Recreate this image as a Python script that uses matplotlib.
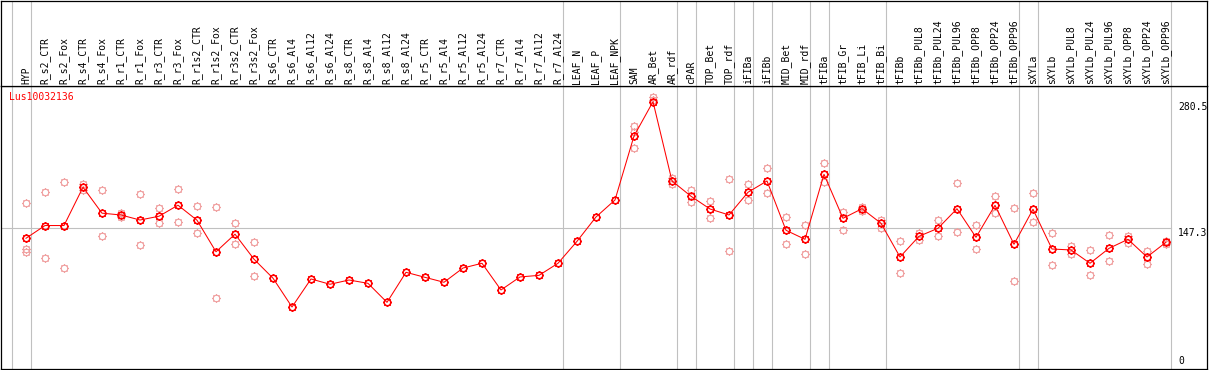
import numpy as np
import matplotlib
matplotlib.use("Agg")
import matplotlib.pyplot as plt
from matplotlib.path import Path

categories = ["HYP", "R_s2_CTR", "R_s2_Fox", "R_s4_CTR", "R_s4_Fox", "R_r1_CTR", "R_r1_Fox",
              "R_r3_CTR", "R_r3_Fox", "R_r1s2_CTR", "R_r1s2_Fox", "R_r3s2_CTR", "R_r3s2_Fox",
              "R_s6_CTR", "R_s6_Al4", "R_s6_Al12", "R_s6_Al24", "R_s8_CTR", "R_s8_Al4",
              "R_s8_Al12", "R_s8_Al24", "R_r5_CTR", "R_r5_Al4", "R_r5_Al12", "R_r5_Al24",
              "R_r7_CTR", "R_r7_Al4", "R_r7_Al12", "R_r7_Al24", "LEAF_N", "LEAF_P", "LEAF_NPK",
              "SAM", "AR_Bet", "AR_rdf", "cPAR", "TOP_Bet", "TOP_rdf", "iFIBa", "iFIBb",
              "MID_Bet", "MID_rdf", "tFIBa", "tFIB_Gr", "tFIB_Li", "tFIB_Bi", "tFIBb",
              "tFIBb_PUL8", "tFIBb_PUL24", "tFIBb_PUL96", "tFIBb_OPP8", "tFIBb_OPP24",
              "tFIBb_OPP96", "sXYLa", "sXYLb", "sXYLb_PUL8", "sXYLb_PUL24", "sXYLb_PUL96",
              "sXYLb_OPP8", "sXYLb_OPP24", "sXYLb_OPP96"]

mean_values = [136.8, 150.2, 150.2, 190.5, 163.2, 161.3, 156.0, 160.0, 171.6, 155.8, 122.6,
               141.1, 114.8, 94.8, 64.5, 94.0, 88.4, 92.9, 89.4, 69.4, 101.0, 95.7, 90.5,
               105.5, 110.5, 82.4, 96.1, 97.8, 110.5, 133.6, 159.2, 177.1, 244.4, 280.5,
               197.1, 181.0, 167.6, 161.3, 185.2, 197.1, 145.2, 135.7, 204.1, 157.8, 167.9,
               152.6, 117.1, 138.9, 147.3, 167.9, 137.8, 171.5, 130.5, 167.3, 125.5, 124.5,
               110.5, 126.2, 135.7, 117.1, 132.6]

nan = np.nan
rep1 = [173.6, 185.2, 196.3, 193.6, 187.6, 162.9, 183.1, 168.3, 188.6, 170.8, 169.4,
        153.2, 132.9, nan, nan, nan, nan, nan, nan, nan, nan, nan, nan, nan, nan, nan, nan,
        nan, nan, nan, nan, nan, 254.9, 285.1, 200.5, 187.6, 175.7, 198.8, 193.6, 210.4,
        158.9, 150.4, 215.7, 164.1, 170.0, 156.0, 133.9, 142.7, 156.0, 194.6, 150.4, 181.0,
        168.3, 184.1, 142.0, 129.0, 124.1, 139.9, 139.5, 123.4, 134.2]
rep2 = [125.5, 115.7, 105.2, 187.6, 139.2, 159.7, 129.7, 152.6, 153.6, 142.0, 73.6,
        130.5, 96.8, nan, nan, nan, nan, nan, nan, nan, nan, nan, nan, nan, nan, nan, nan,
        nan, nan, nan, nan, nan, 231.5, 282.3, 193.6, 174.6, 158.1, 123.1, 176.7, 184.1,
        130.5, 120.3, 195.7, 145.2, 165.5, 147.3, 100.3, 135.0, 139.5, 143.1, 125.2, 163.1,
        91.5, 153.6, 109.0, 119.9, 97.8, 112.6, 131.8, 110.0, 130.8]
rep3 = [122.0, nan, nan, nan, nan, nan, nan, nan, nan, nan, nan, nan, nan, nan, nan, nan,
        nan, nan, nan, nan, nan, nan, nan, nan, nan, nan, nan, nan, nan, nan, nan, nan,
        248.6, nan, nan, nan, nan, nan, nan, nan, nan, nan, nan, nan, nan, nan, nan, nan,
        nan, nan, nan, nan, nan, nan, nan, nan, nan, nan, nan, nan, nan]

group_starts = [0, 1, 29, 32, 35, 36, 38, 39, 40, 42, 43, 46, 53, 54, 61]
gene_name = "Lus10032136"
right_labels = ["280.5", "147.3", "0"]
right_label_values = [280.5, 147.3, 0]

# ---------------- layout -----------------
W, H = 1209, 370
fig = plt.figure(figsize=(W / 100, H / 100), dpi=100)
mono = "DejaVu Sans Mono"
fs = 7.0

px0 = 26.0      # pixel x of first category
pstep = 19.0    # pixel step between categories
left_px, right_px = 1.0, 1207.0
xlim = ((left_px - px0) / pstep, (right_px - px0) / pstep)

top_px, sep_px, bot_px = 0.5, 86.0, 369.0
y0_px, scale = 368.3, 0.9505   # pixel of value 0, pixels per unit
ylim = ((y0_px - bot_px) / scale, (y0_px - sep_px) / scale)

ax = fig.add_axes([left_px / W, (H - bot_px) / H, (right_px - left_px) / W, (bot_px - sep_px) / H])
hx = fig.add_axes([left_px / W, (H - sep_px) / H, (right_px - left_px) / W, (sep_px - top_px) / H])

for a in (ax, hx):
    a.set_xlim(*xlim)
    a.set_xticks([])
    a.set_yticks([])
    for s in a.spines.values():
        s.set_linewidth(0.9)
        s.set_color("black")
ax.set_ylim(*ylim)
hx.set_ylim(0, 1)

grey = "#c0c0c0"
off = 14.3 / pstep
for g in group_starts:
    for a in (ax, hx):
        a.axvline(g - off, color=grey, lw=0.8, zorder=1)
ax.plot([xlim[0], len(categories) - off], [147.3, 147.3], color=grey, lw=0.8, zorder=1)

# marker: circle with small ticks
theta = np.linspace(0, 2 * np.pi, 33)
verts = [(np.cos(t), np.sin(t)) for t in theta[:-1]] + [(1, 0)]
codes = [Path.MOVETO] + [Path.LINETO] * 31 + [Path.CLOSEPOLY]
for ang in np.arange(8) * np.pi / 4:
    verts += [(1.05 * np.cos(ang), 1.05 * np.sin(ang)), (1.35 * np.cos(ang), 1.35 * np.sin(ang))]
    codes += [Path.MOVETO, Path.LINETO]
mk = Path(verts, codes)

x = np.arange(len(categories))
light = "#f0a0a0"
for rep in (rep1, rep2, rep3):
    ax.plot(x, rep, ls="none", marker=mk, ms=6.3, mfc="none", mec=light, mew=0.8, zorder=2)
ax.plot(x, mean_values, color="red", lw=0.75, zorder=3)
ax.plot(x, mean_values, ls="none", marker=mk, ms=6.3, mfc="none", mec="red", mew=1.1, zorder=4)

# header labels
for i, c in enumerate(categories):
    hx.text(i, 2.5 / (sep_px - top_px), c, rotation=90, ha="center", va="bottom",
            fontsize=fs, family=mono, color="black")

ax.text((9 - px0) / pstep, (y0_px - 97.5) / scale, gene_name, color="red", fontsize=fs,
        family=mono, ha="left", va="center")

rx = (1178 - px0) / pstep
for lab, v in zip(right_labels, right_label_values):
    if v == 0:
        ax.text(rx, v + 2.0, lab, fontsize=fs, family=mono, ha="left", va="bottom")
    else:
        ax.text(rx, v, lab, fontsize=fs, family=mono, ha="left", va="top")

fig.savefig("out.png", dpi=100)
